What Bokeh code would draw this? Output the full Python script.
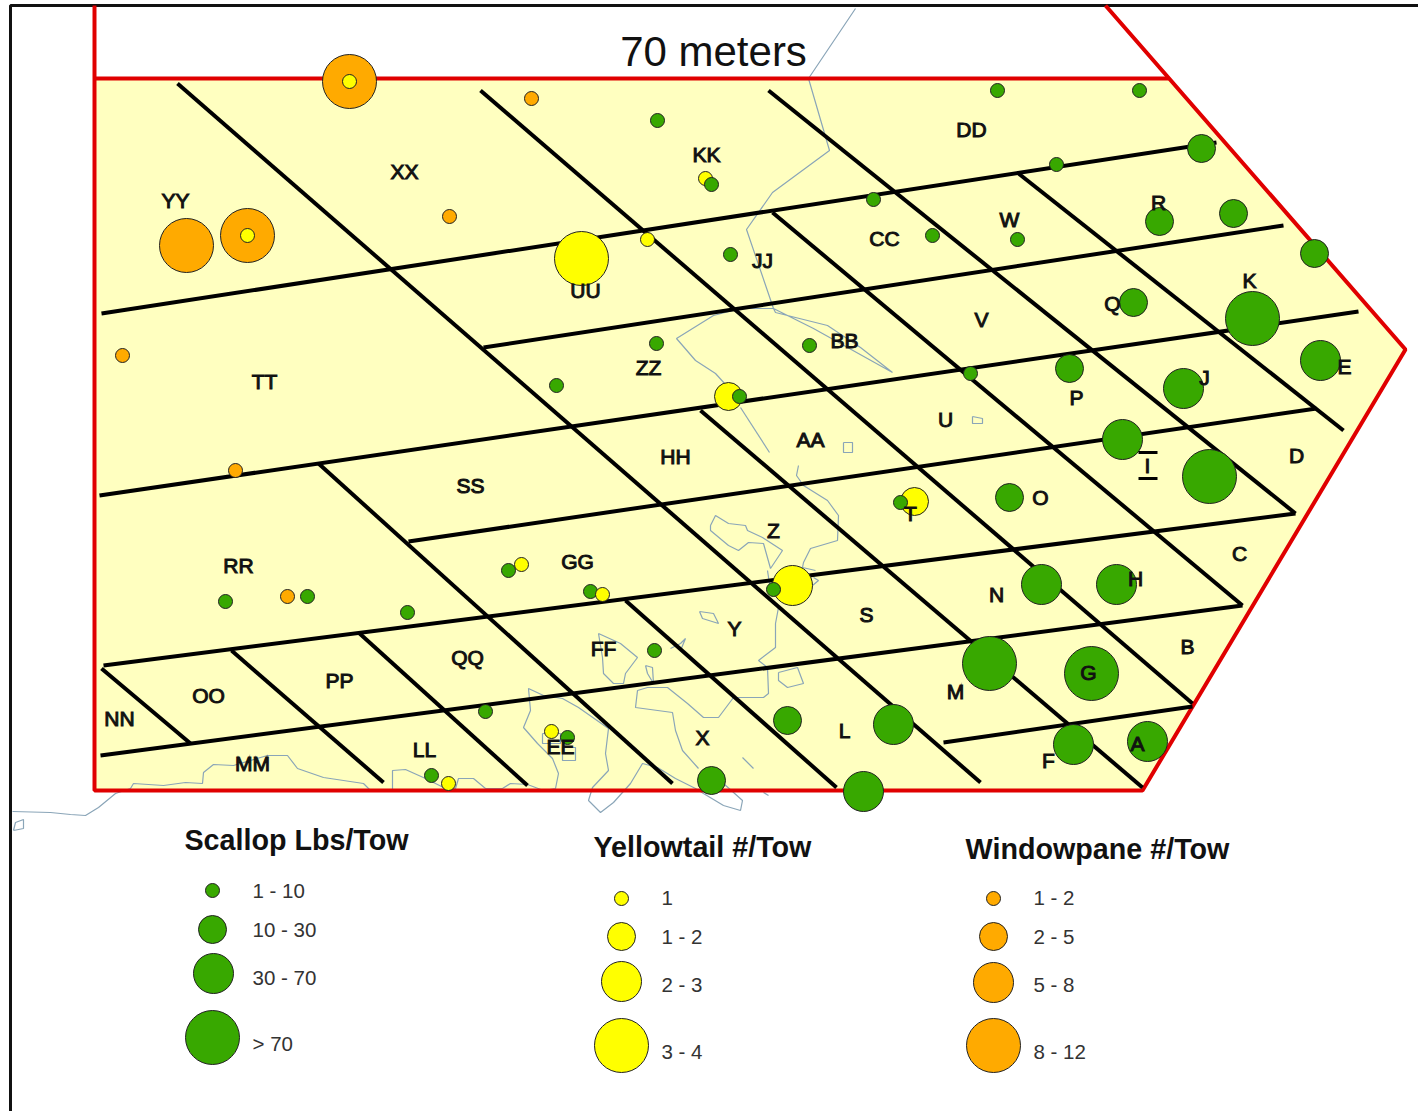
from bokeh.plotting import figure
from bokeh.embed import file_html
from bokeh.resources import INLINE
from bokeh.core.properties import value

W, H = 1418, 1111

# Map geometry (picture coordinates)
frame_x = [10, 10, 1418]
frame_y = [1111, 5, 5]
area_x = [94, 1168, 1405, 1142, 94]
area_y = [78, 78, 349, 790, 790]
boundary_x = [94, 94, 1142, 1405, 1105]
boundary_y = [5, 790, 790, 349, 5]
ridge_x = [94, 1168]
ridge_y = [78, 78]

grid_lines = [
    [(101, 313), (1216, 142)], [(483, 347), (1283, 225)], [(99, 495), (1358, 311)],
    [(408, 541), (1316, 408)], [(103, 665), (1295, 513)], [(100, 755), (1242, 605)],
    [(943, 742), (1192, 706)],
    [(177, 83), (980, 782)], [(480, 90), (1192, 703)], [(768, 90), (1295, 513)],
    [(1018, 173), (1343, 430)], [(772, 212), (1242, 605)], [(700, 410), (1142, 787)],
    [(318, 463), (672, 783)], [(625, 600), (836, 787)], [(358, 632), (527, 785)],
    [(231, 650), (383, 782)], [(101, 668), (190, 743)],
]

coast_lines = [
    [(855, 8), (808, 78), (829, 150), (772, 192), (746, 229), (773, 308), (775, 312), (827, 325), (860, 347), (892, 372), (813, 328), (773, 308), (740, 308), (713, 315), (676, 338), (695, 360), (715, 373), (725, 384)],
    [(740, 407), (769, 452)],
    [(710, 525), (715, 515), (728, 523), (745, 525), (747, 530), (762, 537), (782, 550), (770, 568), (763, 543), (748, 542), (738, 550), (728, 545), (710, 530), (710, 525)],
    [(798, 465), (796, 475), (803, 485), (827, 500), (838, 515), (837, 540), (810, 548), (803, 562), (802, 567), (815, 570)],
    [(767, 570), (770, 590)],
    [(813, 577), (818, 580), (812, 585)],
    [(778, 607), (775, 623), (775, 647), (758, 660), (767, 667), (768, 693), (763, 697), (733, 697), (718, 717), (703, 717), (687, 703), (667, 687), (647, 687), (637, 690), (635, 707), (672, 712), (675, 730), (682, 750), (698, 768)],
    [(598, 633), (620, 643), (637, 657), (625, 673), (623, 683), (613, 683), (603, 673), (602, 657), (598, 633)],
    [(699, 611), (713, 613), (718, 623), (702, 618), (699, 611)],
    [(645, 665), (652, 667), (653, 683), (647, 673), (645, 665)],
    [(778, 672), (797, 667), (803, 683), (787, 687), (778, 680), (778, 672)],
    [(742, 757), (748, 763), (753, 768)], [(763, 792), (768, 795)],
    [(542, 733), (560, 733), (560, 743), (542, 743), (542, 733)],
    [(562, 747), (575, 747), (575, 760), (562, 760), (562, 747)],
    [(670, 648), (680, 643), (685, 638), (680, 650)],
    [(843, 442), (852, 442), (852, 452), (843, 452), (843, 442)],
    [(972, 416), (982, 418), (982, 423), (972, 423), (972, 416)],
    [(12, 811), (50, 812), (70, 814), (85, 815), (98, 807), (115, 793), (130, 788), (133, 783), (163, 785), (185, 782), (202, 783), (203, 772), (213, 764), (233, 765), (267, 755), (287, 755), (297, 768), (323, 777), (363, 783), (370, 790), (392, 790), (392, 770), (405, 769), (425, 778), (445, 788), (455, 788), (458, 778), (473, 778), (485, 788), (502, 788), (510, 783), (527, 784), (543, 790), (555, 788), (558, 773), (552, 758), (537, 743), (523, 727), (530, 710), (528, 688), (543, 695), (562, 698), (578, 707), (608, 728), (605, 753), (608, 770), (592, 787), (588, 800), (600, 812), (613, 802), (630, 783), (642, 763), (657, 767), (675, 778), (695, 788), (703, 793), (723, 805), (740, 810), (742, 800), (723, 783)],
    [(13, 830), (15, 822), (23, 819), (23, 828), (13, 830)],
]

# Tow stations
scallop_x = [997, 1139, 657, 711, 1056, 873, 932, 1017, 730, 656, 809, 970, 556, 739, 900, 773, 508, 590, 225, 307, 407, 654, 485, 567, 431,
             1201, 1159, 1233, 1314, 1133, 1069, 1009, 787, 711,
             1320, 1183, 1122, 1041, 1116, 893, 1073, 1147, 863,
             1252, 1209, 989, 1091]
scallop_y = [90, 90, 120, 184, 164, 199, 235, 239, 254, 343, 345, 373, 385, 396, 502, 589, 570, 591, 601, 596, 612, 650, 711, 737, 775,
             148, 221, 213, 253, 302, 368, 497, 720, 780,
             360, 388, 439, 584, 584, 724, 744, 741, 791,
             318, 476, 663, 673]
scallop_r = [7] * 25 + [14] * 9 + [20] * 9 + [27] * 4

yellow_x = [349, 247, 705, 647, 521, 551, 728, 914, 792, 581]
yellow_y = [81, 235, 178, 239, 564, 731, 396, 501, 585, 258]
yellow_r = [7] * 6 + [14, 14, 20, 27]
yellow_top_x = [602, 448]
yellow_top_y = [594, 783]
yellow_top_r = [7, 7]

orange_x = [531, 449, 122, 235, 287, 349, 186, 247]
orange_y = [98, 216, 355, 470, 596, 81, 245, 235]
orange_r = [7] * 5 + [27] * 3

# Block labels
label_text = ["YY", "XX", "KK", "DD", "R", "W", "CC", "JJ", "UU", "K", "Q", "V", "BB", "ZZ", "TT", "E", "J", "P", "U", "AA", "HH", "D", "I", "SS", "O", "T", "Z", "C", "GG", "RR", "H", "N", "S", "Y", "B", "FF", "QQ", "G", "PP", "M", "OO", "NN", "L", "X", "A", "EE", "LL", "F", "MM"]
label_x = [175, 404, 706, 971, 1158, 1009, 884, 762, 585, 1249, 1112, 981, 844, 648, 264, 1344, 1204, 1076, 945, 810, 675, 1296, 1147, 470, 1040, 910, 773, 1239, 577, 238, 1135, 996, 866, 734, 1187, 603, 467, 1088, 339, 955, 208, 119, 844, 702, 1137, 560, 424, 1048, 252]
label_y = [201, 172, 155, 130, 203, 220, 239, 261, 291, 281, 304, 320, 341, 368, 382, 367, 378, 398, 420, 440, 457, 456, 466, 486, 498, 514, 531, 554, 562, 566, 579, 595, 615, 629, 647, 649, 658, 673, 681, 692, 696, 719, 731, 738, 744, 747, 750, 761, 764]

# Legends
legend_titles = ["Scallop Lbs/Tow", "Yellowtail #/Tow", "Windowpane #/Tow"]
legend_title_x = [296, 702, 1097]
legend_title_y = [840, 847, 849]
legend_r = [7, 14, 20, 27]

leg_scallop_x = [212, 212, 213, 212]
leg_scallop_y = [890, 929, 973, 1037]
leg_scallop_labels = ["1 - 10", "10 - 30", "30 - 70", "> 70"]
leg_scallop_label_y = [891, 930, 978, 1044]

leg_yellow_x = [621, 621, 621, 621]
leg_yellow_y = [898, 936, 981, 1045]
leg_yellow_labels = ["1", "1 - 2", "2 - 3", "3 - 4"]
leg_yellow_label_y = [898, 937, 985, 1052]

leg_orange_x = [993, 993, 993, 993]
leg_orange_y = [898, 936, 982, 1045]
leg_orange_labels = ["1 - 2", "2 - 5", "5 - 8", "8 - 12"]
leg_orange_label_y = [898, 937, 985, 1052]

GREEN, YELLOW, ORANGE = "#38A800", "#FFFF00", "#FFAA00"
FONT = value("Liberation Sans")

p = figure(width=W, height=H, x_range=(0, W), y_range=(H, 0), output_backend="svg",
           toolbar_location=None, min_border=0, outline_line_color=None,
           background_fill_color="white", border_fill_color="white")
p.axis.visible = False
p.grid.visible = False

p.patch(area_x, area_y, fill_color="#FFFFC0", line_color=None)
p.line(frame_x, frame_y, line_color="#111111", line_width=3)
p.multi_line([[a[0] for a in c] for c in coast_lines], [[a[1] for a in c] for c in coast_lines],
             line_color="#8AA5B8", line_width=1.2)
p.line(boundary_x, boundary_y, line_color="#E00000", line_width=4)
p.line(ridge_x, ridge_y, line_color="#E00000", line_width=4)
p.multi_line([[a[0] for a in c] for c in grid_lines], [[a[1] for a in c] for c in grid_lines],
             line_color="black", line_width=4)


def dots(x, y, r, color):
    p.circle(x, y, radius=r, fill_color=color, line_color="#222222", line_width=1)


dots(orange_x, orange_y, orange_r, ORANGE)
dots(yellow_x, yellow_y, yellow_r, YELLOW)
dots(scallop_x, scallop_y, scallop_r, GREEN)
dots(yellow_top_x, yellow_top_y, yellow_top_r, YELLOW)
dots(leg_scallop_x, leg_scallop_y, legend_r, GREEN)
dots(leg_yellow_x, leg_yellow_y, legend_r, YELLOW)
dots(leg_orange_x, leg_orange_y, legend_r, ORANGE)

p.text(label_x, label_y, text=label_text, text_font=FONT, text_font_size="21px",
       text_color="#111111", text_align="center", text_baseline="middle",
       text_outline_color="#111111", y_offset=-1)
p.segment([1138, 1138], [452, 478], [1157, 1157], [452, 478], line_color="black", line_width=3)
p.text([713], [52], text=["70 meters"], text_font=FONT, text_font_size="42px",
       text_color="#111111", text_align="center", text_baseline="middle", y_offset=-1)
p.text(legend_title_x, legend_title_y, text=legend_titles, text_font=FONT, text_font_size="28.7px",
       text_font_style="bold", text_color="#111111", text_align="center", text_baseline="middle", y_offset=-1)
for lx, ly, labels in [(252, leg_scallop_label_y, leg_scallop_labels),
                       (661, leg_yellow_label_y, leg_yellow_labels),
                       (1033, leg_orange_label_y, leg_orange_labels)]:
    p.text([lx] * 4, ly, text=labels, text_font=FONT, text_font_size="20.5px",
           text_color="#333333", text_align="left", text_baseline="middle", y_offset=-1)

open("out.html", "w").write(file_html(p, INLINE))
